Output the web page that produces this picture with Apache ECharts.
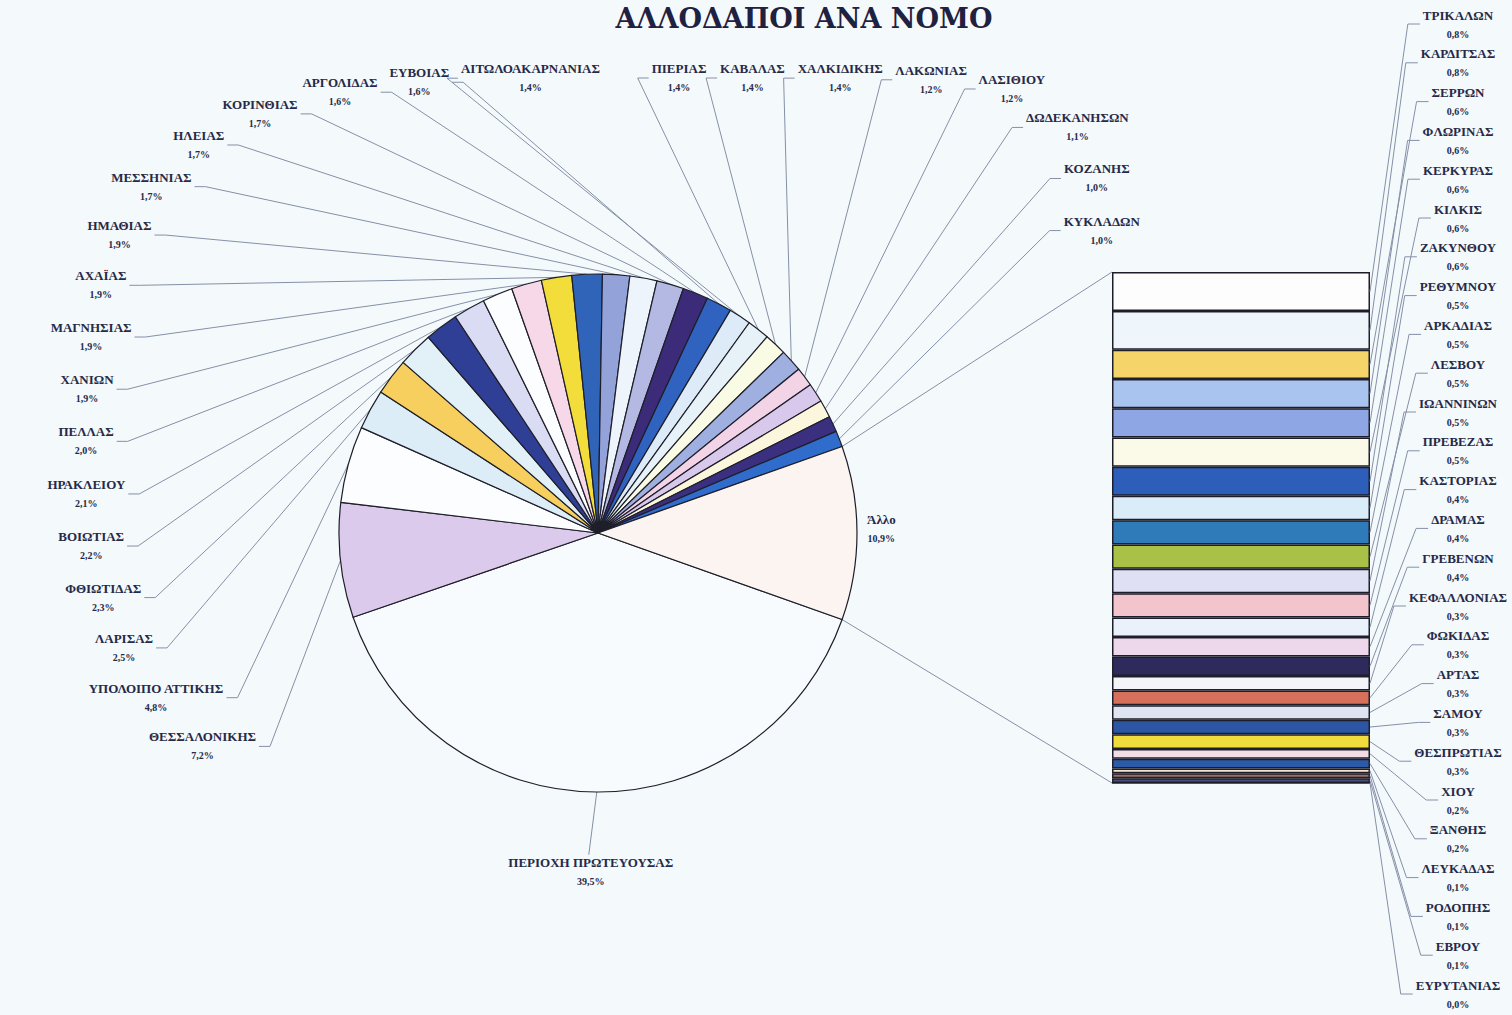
<!DOCTYPE html>
<html><head><meta charset="utf-8">
<script src="https://cdn.jsdelivr.net/npm/echarts@6/dist/echarts.min.js"></script>
<style>html,body{margin:0;padding:0;background:#f4f9fb}#c{width:1512px;height:1015px}</style>
</head><body><div id="c"></div><script>
// ---------- DATA ----------
const TITLE = 'ΑΛΛΟΔΑΠΟΙ ΑΝΑ ΝΟΜΟ';
const pieNames = ['ΠΕΡΙΟΧΗ ΠΡΩΤΕΥΟΥΣΑΣ','ΘΕΣΣΑΛΟΝΙΚΗΣ','ΥΠΟΛΟΙΠΟ ΑΤΤΙΚΗΣ','ΛΑΡΙΣΑΣ','ΦΘΙΩΤΙΔΑΣ','ΒΟΙΩΤΙΑΣ','ΗΡΑΚΛΕΙΟΥ','ΠΕΛΛΑΣ','ΧΑΝΙΩΝ','ΜΑΓΝΗΣΙΑΣ','ΑΧΑΪΑΣ','ΗΜΑΘΙΑΣ','ΜΕΣΣΗΝΙΑΣ','ΗΛΕΙΑΣ','ΚΟΡΙΝΘΙΑΣ','ΑΡΓΟΛΙΔΑΣ','ΕΥΒΟΙΑΣ','ΑΙΤΩΛΟΑΚΑΡΝΑΝΙΑΣ','ΠΙΕΡΙΑΣ','ΚΑΒΑΛΑΣ','ΧΑΛΚΙΔΙΚΗΣ','ΛΑΚΩΝΙΑΣ','ΛΑΣΙΘΙΟΥ','ΔΩΔΕΚΑΝΗΣΩΝ','ΚΟΖΑΝΗΣ','ΚΥΚΛΑΔΩΝ'];
const pieValues = [39.5,7.2,4.8,2.5,2.3,2.2,2.1,2.0,1.9,1.9,1.9,1.9,1.7,1.7,1.7,1.6,1.6,1.4,1.4,1.4,1.4,1.2,1.2,1.1,1.0,1.0];
const otherName = 'Άλλο';
const otherValue = 10.9;
const barNames = ['ΤΡΙΚΑΛΩΝ','ΚΑΡΔΙΤΣΑΣ','ΣΕΡΡΩΝ','ΦΛΩΡΙΝΑΣ','ΚΕΡΚΥΡΑΣ','ΚΙΛΚΙΣ','ΖΑΚΥΝΘΟΥ','ΡΕΘΥΜΝΟΥ','ΑΡΚΑΔΙΑΣ','ΛΕΣΒΟΥ','ΙΩΑΝΝΙΝΩΝ','ΠΡΕΒΕΖΑΣ','ΚΑΣΤΟΡΙΑΣ','ΔΡΑΜΑΣ','ΓΡΕΒΕΝΩΝ','ΚΕΦΑΛΛΟΝΙΑΣ','ΦΩΚΙΔΑΣ','ΑΡΤΑΣ','ΣΑΜΟΥ','ΘΕΣΠΡΩΤΙΑΣ','ΧΙΟΥ','ΞΑΝΘΗΣ','ΛΕΥΚΑΔΑΣ','ΡΟΔΟΠΗΣ','ΕΒΡΟΥ','ΕΥΡΥΤΑΝΙΑΣ'];
const barValues = [0.8,0.8,0.6,0.6,0.6,0.6,0.6,0.5,0.5,0.5,0.5,0.5,0.4,0.4,0.4,0.3,0.3,0.3,0.3,0.3,0.2,0.2,0.1,0.1,0.1,0.0];

// ---------- STYLES ----------
const pieColors = ['#f8fbfd','#dccaec','#fbfdff','#dcedf8','#f6cf5e','#e2f1f8','#2f3f95','#d9dcf2','#fcfdff','#f6d8e8','#f3dd3a','#3064b8','#93a2d8','#eef4fb','#b3b9e2','#3b2b78','#3063c0','#dcebf7','#e6f2f7','#fafbe4','#9fb0e0','#f3d3e6','#d8c9ec','#fbf6dc','#3b2f80','#2f6ccc'];
const otherColor = '#fcf4f0';
const barColors = ['#fdfdfd','#eef6fb','#f5d46a','#a9c4ee','#8ea6e4','#fbfae8','#2d5fba','#d9ecf8','#2f7ab8','#a9c147','#dfe0f3','#f3c4cc','#e9f1fa','#ecd8ea','#2e2a5c','#f3f5f9','#d6705a','#dfe4f2','#2c56a4','#f0dc3c','#f0dde6','#2c5aa8','#f3e6d0','#9c6f66','#4a4f7a','#333344'];
const TXT = '#262a48', LINE = '#8590a8', EDGE = '#1e1e2a';
const FONT = 'Liberation Serif';
const NAME_FONT = 'bold 13px "Liberation Serif"', VAL_FONT = 'bold 10px "Liberation Serif"';
const PC = [598, 533], PR = 259;

// ---------- HELPERS ----------
const fmt = v => v.toFixed(1).replace('.', ',') + '%';
const measure = (() => { const ctx = document.createElement('canvas').getContext('2d'); return (t, f) => { ctx.font = f; return ctx.measureText(t).width; }; })();
const allNames = pieNames.concat([otherName]);
const allValues = pieValues.concat([otherValue]);
const total = allValues.reduce((a, b) => a + b, 0);
const halfOther = otherValue / total * 180;
const startDeg = -halfOther;
const mids = []; { let acc = 0; allValues.forEach(v => { mids.push((startDeg - (acc + v / 2) / total * 360) * Math.PI / 180); acc += v; }); }

// label slots: walk along a superellipse around the pie, spacing labels by their own size
function labelSlots(widths) {
  const n = widths.length;
  const cx = 598, cy = 470, ry = 392, rxL = 512, rxR = 505, pLL = 2.3, pUL = 3.2, pR = 8, wy = 54, gap = 16;
  const t0 = 222 * Math.PI / 180, t1 = 8 * Math.PI / 180, N = 6000, dt = (t1 - t0) / N;
  const pw = (v, e) => Math.sign(v) * Math.pow(Math.abs(v), e);
  const pt = t => { const c = Math.cos(t), s = Math.sin(t); const left = c < 0;
    const p = left ? (s < 0 ? pLL : pUL) : pR;
    return [cx + (left ? rxL : rxR) * pw(c, 2 / p), cy - ry * pw(s, 2 / p)]; };
  function place(k) {
    const out = [pt(t0)]; let prev = out[0], step = 0;
    for (let j = 1; j < n; j++) {
      const W = (widths[j - 1] + widths[j]) / 2 + gap;
      let p;
      do { step++; p = pt(t0 + dt * step); } while (step < 3 * N && Math.hypot((p[0] - prev[0]) / W, (p[1] - prev[1]) / wy) < k);
      out.push(p); prev = p;
    }
    return { out, step };
  }
  let lo = 0.2, hi = 3;
  for (let it = 0; it < 40; it++) { const mid = (lo + hi) / 2; if (place(mid).step > N) hi = mid; else lo = mid; }
  return place(lo).out;
}
const ringWidths = pieNames.slice(1).map((n, i) => Math.max(measure(n, NAME_FONT), measure(fmt(pieValues[i + 1]), VAL_FONT)));
const slots = labelSlots(ringWidths);

const barCum = []; let barTotal = 0; barValues.forEach(v => { barCum.push(barTotal); barTotal += v; });

// ---------- CHART ----------
const chart = echarts.init(document.getElementById('c'), null, { renderer: 'svg', width: 1512, height: 1015 });

const pieData = allNames.map((n, i) => ({
  name: n, value: allValues[i],
  itemStyle: { color: i < pieColors.length ? pieColors[i] : otherColor },
  labelLine: { show: i !== allNames.length - 1 }
}));

const barSeries = barNames.map((n, i) => ({
  type: 'bar', name: n, stack: 'other', barWidth: '100%', xAxisIndex: 0, yAxisIndex: 0,
  data: [barValues[i]],
  itemStyle: { color: barColors[i], borderColor: EDGE, borderWidth: 1.5 },
  silent: true
}));

const option = {
  backgroundColor: '#f4f9fb',
  animation: false,
  title: { text: TITLE, left: 799, top: 0, textAlign: 'center',
    textStyle: { fontFamily: 'DejaVu Serif', fontWeight: 'bold', fontSize: 27, color: '#1f2140' } },
  grid: { left: 1112, top: 272, width: 258, height: 511 },
  xAxis: { type: 'category', data: [otherName], show: false },
  yAxis: { type: 'value', inverse: true, min: 0, max: barTotal, show: false },
  series: [
    {
      type: 'pie', center: PC, radius: PR, startAngle: 360 + startDeg, clockwise: true,
      avoidLabelOverlap: false, silent: true,
      itemStyle: { borderColor: EDGE, borderWidth: 1.2 },
      label: {
        show: true, position: 'outside', overflow: 'none',
        formatter: p => '{n|' + p.name + '}\n{v|' + fmt(p.value) + '}',
        rich: {
          n: { fontFamily: FONT, fontWeight: 'bold', fontSize: 13, color: TXT, lineHeight: 19, align: 'center' },
          v: { fontFamily: FONT, fontWeight: 'bold', fontSize: 10, color: TXT, lineHeight: 19, align: 'center' }
        }
      },
      labelLine: { show: true, lineStyle: { color: LINE, width: 1 } },
      labelLayout: function (p) {
        const i = p.dataIndex, m = mids[i];
        const arc = [PC[0] + PR * Math.cos(m), PC[1] - PR * Math.sin(m)];
        const w = p.labelRect.width, h = p.labelRect.height;
        if (i === allNames.length - 1) {
          return { x: PC[0] + PR + 10, y: PC[1] - 4, align: 'left', verticalAlign: 'middle' };
        }
        if (i === 0) {
          const ly = arc[1] + 80;
          return { x: arc[0] - 6, y: ly, align: 'center', verticalAlign: 'middle',
            labelLinePoints: [arc, [arc[0] - 8, ly - h / 2 - 2], [arc[0] - 8, ly - h / 2 - 2]] };
        }
        const P = slots[i - 1];
        let e, s2;
        if (P[0] < 420) { e = [P[0] + w / 2 + 3, P[1]]; s2 = [e[0] + 11, P[1]]; }
        else { e = [P[0] - w / 2 - 3, P[1]]; s2 = [e[0] - 11, P[1]]; }
        return { x: P[0], y: P[1], align: 'center', verticalAlign: 'middle', labelLinePoints: [arc, s2, e] };
      },
      data: pieData
    },
    ...barSeries,
    {
      type: 'custom', coordinateSystem: 'cartesian2d', silent: true, z: 5,
      data: barValues.map((v, i) => [0, barCum[i]]),
      renderItem: function (params, api) {
        const i = params.dataIndex;
        const a = api.coord([0, barCum[i]]), b = api.coord([0, barCum[i] + barValues[i]]);
        const bw = api.size([1, 0])[0];
        const xr = a[0] + bw / 2, my = (a[1] + b[1]) / 2;
        const H = api.getHeight();
        const top = 24, bottom = H - 21;
        const ly = top + i * (bottom - top) / (barNames.length - 1);
        const lcx = xr + 88;
        const w = Math.max(measure(barNames[i], NAME_FONT), measure(fmt(barValues[i]), VAL_FONT));
        const lx = lcx - w / 2 - 3;
        return { type: 'group', children: [
          { type: 'polyline', shape: { points: [[xr, my], [lx - 12, ly], [lx, ly]] }, style: { stroke: LINE, lineWidth: 1, fill: 'none' } },
          { type: 'text', x: lcx, y: ly - 9, style: { text: barNames[i], font: NAME_FONT, fill: TXT, align: 'center', verticalAlign: 'middle' } },
          { type: 'text', x: lcx, y: ly + 10, style: { text: fmt(barValues[i]), font: VAL_FONT, fill: TXT, align: 'center', verticalAlign: 'middle' } }
        ] };
      }
    },
    {
      type: 'custom', coordinateSystem: 'cartesian2d', silent: true, z: 1,
      data: [[0, 0]],
      renderItem: function (params, api) {
        const t = api.coord([0, 0]), bt = api.coord([0, barTotal]);
        const xl = t[0] - api.size([1, 0])[0] / 2;
        const aT = halfOther * Math.PI / 180;
        const px = PC[0] + PR * Math.cos(aT), dy = PR * Math.sin(aT);
        return { type: 'group', children: [
          { type: 'line', shape: { x1: px, y1: PC[1] - dy, x2: xl, y2: t[1] }, style: { stroke: LINE, lineWidth: 1 } },
          { type: 'line', shape: { x1: px, y1: PC[1] + dy, x2: xl, y2: bt[1] }, style: { stroke: LINE, lineWidth: 1 } }
        ] };
      }
    }
  ]
};
chart.setOption(option);
</script></body></html>
